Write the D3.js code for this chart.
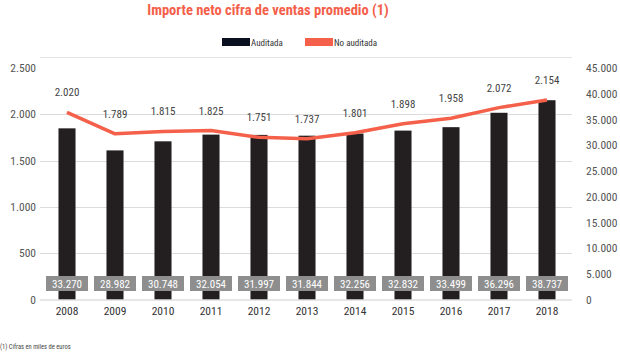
<!DOCTYPE html>
<html><head><meta charset="utf-8">
<script src="https://cdn.jsdelivr.net/npm/d3@7"></script>
<style>
html,body{margin:0;padding:0;background:#fff;}
svg{display:block;font-family:Roboto, "DejaVu Sans", sans-serif;}
</style></head>
<body>
<script>
const years = ["2008","2009","2010","2011","2012","2013","2014","2015","2016","2017","2018"];
const auditada = [33270, 28982, 30748, 32054, 31997, 31844, 32256, 32832, 33499, 36296, 38737];
const noAuditada = [2020, 1789, 1815, 1825, 1751, 1737, 1801, 1898, 1958, 2072, 2154];
const leftTicks = [0, 500, 1000, 1500, 2000, 2500];
const rightTicks = [0, 5000, 10000, 15000, 20000, 25000, 30000, 35000, 40000, 45000];
const seriesNames = ["Auditada", "No auditada"];
const titleText = "Importe neto cifra de ventas promedio (1)";
const footnote = "(1) Cifras en miles de euros";

const W = 620, H = 356;
const loc = d3.formatLocale({decimal: ",", thousands: ".", grouping: [3], currency: ["", "€"]});
const fmt = loc.format(",d");
const narrow = "'Liberation Sans Narrow', 'Roboto Condensed', Roboto, sans-serif";

const svg = d3.select("body").append("svg").attr("width", W).attr("height", H);

const x = d3.scaleBand().domain(years).range([43, 571]).paddingInner(0.645).paddingOuter(0.3225);
const yL = d3.scaleLinear().domain([0, 2500]).range([299.5, 68]);
const yR = d3.scaleLinear().domain([0, 45000]).range([299.5, 68]);

const orange = "#f4604a", dark = "#231f20";

// title
svg.append("text").attr("x", 268).attr("y", 15).attr("text-anchor", "middle")
  .attr("font-family", narrow).attr("font-weight", "bold")
  .attr("font-size", 14.5).attr("fill", orange).text(titleText);

// legend
const lg = svg.append("g").attr("font-family", narrow);
lg.append("rect").attr("x", 222).attr("y", 38).attr("width", 28).attr("height", 8).attr("fill", "#0b1020");
lg.append("text").attr("x", 251).attr("y", 45.5).attr("font-size", 9).attr("fill", "#333").text(seriesNames[0]);
lg.append("rect").attr("x", 305).attr("y", 38).attr("width", 28).attr("height", 8).attr("fill", orange);
lg.append("text").attr("x", 334).attr("y", 45.5).attr("font-size", 9).attr("fill", "#333").text(seriesNames[1]);

// top border
svg.append("line").attr("x1", 40).attr("x2", 572).attr("y1", 57.5).attr("y2", 57.5)
  .attr("stroke", "#e3e3e3").attr("stroke-width", 1.2);

// gridlines (left axis)
svg.append("g").selectAll("line").data(leftTicks.filter(t => t > 0 && t < 2500)).join("line")
  .attr("x1", 40).attr("x2", 572).attr("y1", d => Math.round(yL(d)) + 0.5).attr("y2", d => Math.round(yL(d)) + 0.5)
  .attr("stroke", "#dcdcdc").attr("stroke-width", 1);

// left axis
const gl = svg.append("g").attr("transform", "translate(39,0)")
  .call(d3.axisLeft(yL).tickValues(leftTicks).tickFormat(fmt).tickSize(0).tickPadding(3));
gl.select(".domain").remove();
gl.selectAll("text").attr("font-size", 11.5).attr("fill", "#555").attr("font-family", narrow);

// right axis
const gr = svg.append("g").attr("transform", "translate(586,0)")
  .call(d3.axisRight(yR).tickValues(rightTicks).tickFormat(fmt).tickSize(0).tickPadding(0));
gr.select(".domain").remove();
gr.selectAll("text").attr("font-size", 11.5).attr("fill", "#555").attr("font-family", narrow);

// bars (Auditada, right axis)
svg.append("g").selectAll("rect").data(auditada).join("rect")
  .attr("x", (d, i) => x(years[i])).attr("width", x.bandwidth())
  .attr("y", d => yR(d)).attr("height", d => yR(0) - yR(d)).attr("fill", dark);

// baseline
svg.append("line").attr("x1", 40).attr("x2", 572).attr("y1", 300).attr("y2", 300)
  .attr("stroke", "#d0d0d0").attr("stroke-width", 1.2);

// x axis
const gx = svg.append("g").attr("transform", "translate(0,300)")
  .call(d3.axisBottom(x).tickSize(0).tickPadding(7));
gx.select(".domain").remove();
gx.selectAll("text").attr("font-size", 11.5).attr("fill", "#333").attr("font-family", narrow);

// line (No auditada, left axis)
const line = d3.line().x((d, i) => x(years[i]) + x.bandwidth() / 2).y(d => yL(d));
svg.append("path").datum(noAuditada).attr("d", line).attr("fill", "none")
  .attr("stroke", orange).attr("stroke-width", 3.5).attr("stroke-linejoin", "round");

// line labels
svg.append("g").attr("font-family", narrow).selectAll("text").data(noAuditada).join("text")
  .attr("x", (d, i) => x(years[i]) + x.bandwidth() / 2).attr("y", d => yL(d) - 16)
  .attr("text-anchor", "middle").attr("font-size", 11).attr("fill", "#444").text(d => fmt(d));

// bar value boxes
const bx = svg.append("g").attr("font-family", narrow);
bx.selectAll("rect").data(auditada).join("rect")
  .attr("x", (d, i) => x(years[i]) + x.bandwidth() / 2 - 21).attr("y", 276)
  .attr("width", 42).attr("height", 15).attr("fill", "#8e8e8e");
bx.selectAll("text").data(auditada).join("text")
  .attr("x", (d, i) => x(years[i]) + x.bandwidth() / 2).attr("y", 287.5)
  .attr("text-anchor", "middle").attr("font-size", 11).attr("fill", "#fff").text(d => fmt(d));

// footnote
svg.append("text").attr("x", 0).attr("y", 349).attr("font-size", 6.5).attr("fill", "#444")
  .attr("font-family", narrow).text(footnote);
</script>
</body></html>
